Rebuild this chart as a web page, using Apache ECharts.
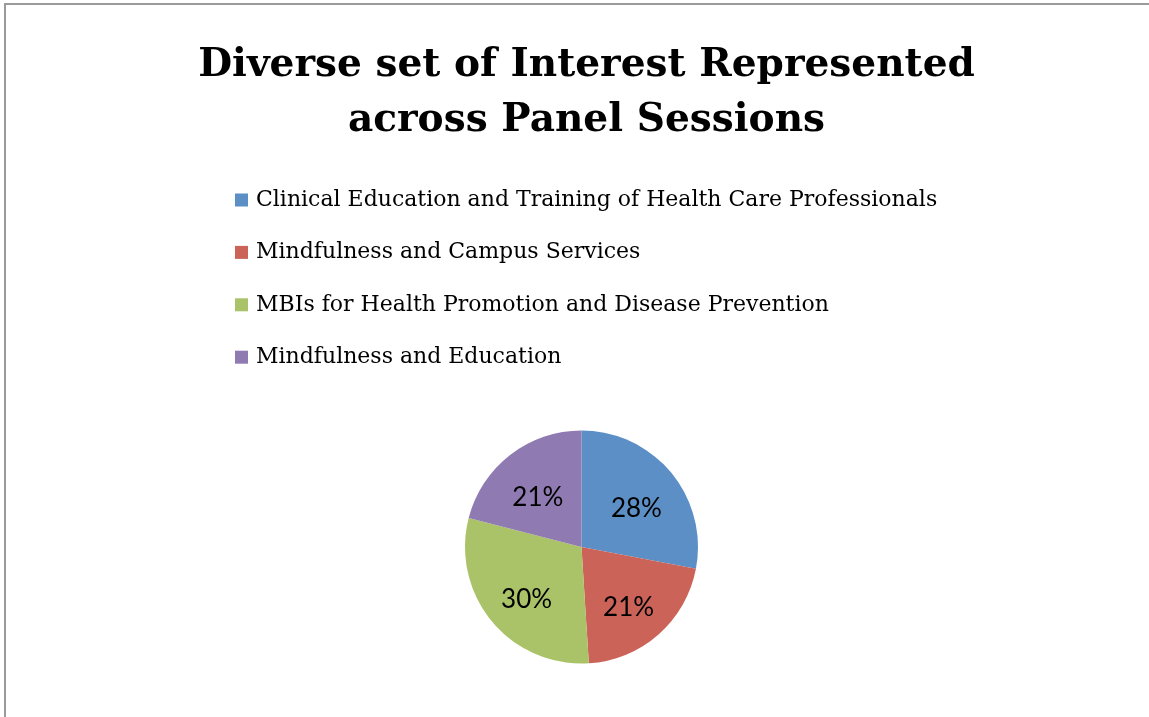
<!DOCTYPE html>
<html>
<head>
<meta charset="utf-8">
<script src="https://cdn.jsdelivr.net/npm/echarts@6/dist/echarts.min.js"></script>
<style>
html,body{margin:0;padding:0;background:#fff;}
#c{width:1149px;height:717px;}
</style>
</head>
<body>
<div id="c"></div>
<script>
const titleText = "Diverse set of Interest Represented\nacross Panel Sessions";
const categories = [
  "Clinical Education and Training of Health Care Professionals",
  "Mindfulness and Campus Services",
  "MBIs for Health Promotion and Disease Prevention",
  "Mindfulness and Education"
];
const values = [28, 21, 30, 21];
const colors = ["#5b8fc6", "#cb6359", "#aac368", "#8f7ab1"];

const chart = echarts.init(document.getElementById('c'));
const data = categories.map((n, i) => ({ name: n, value: values[i] }));
chart.setOption({
  animation: false,
  color: colors,
  graphic: [{
    type: 'rect', silent: true,
    shape: { x: 5, y: 4, width: 1300, height: 900 },
    style: { fill: 'none', stroke: '#9a9a9a', lineWidth: 2 }
  }],
  title: {
    text: titleText,
    left: 581.5, top: 33, textAlign: 'center',
    textStyle: { fontFamily: 'DejaVu Serif', fontWeight: 'bold', fontSize: 39.1, lineHeight: 55, color: '#000' }
  },
  legend: {
    orient: 'vertical', left: 230, top: 182,
    icon: 'rect', itemWidth: 13, itemHeight: 13, itemGap: 26.4,
    data: categories,
    textStyle: { fontFamily: 'DejaVu Serif', fontSize: 22, lineHeight: 26, color: '#000', padding: [0, 0, 0, 3] }
  },
  series: [{
    type: 'pie', center: [581.5, 547], radius: 116.5, startAngle: 90, clockwise: true,
    data: data, label: { show: false }, labelLine: { show: false }, silent: true
  }, {
    type: 'pie', center: [581.5, 547], radius: [20, 116.5], startAngle: 90, clockwise: true,
    data: data, silent: true, legendHoverLink: false,
    itemStyle: { color: 'rgba(0,0,0,0)' },
    label: { show: true, position: 'inside', formatter: '{c}%', fontFamily: 'Lato', fontSize: 26, color: '#000', offset: [0, 7] },
    labelLine: { show: false }
  }]
});
</script>
</body>
</html>
